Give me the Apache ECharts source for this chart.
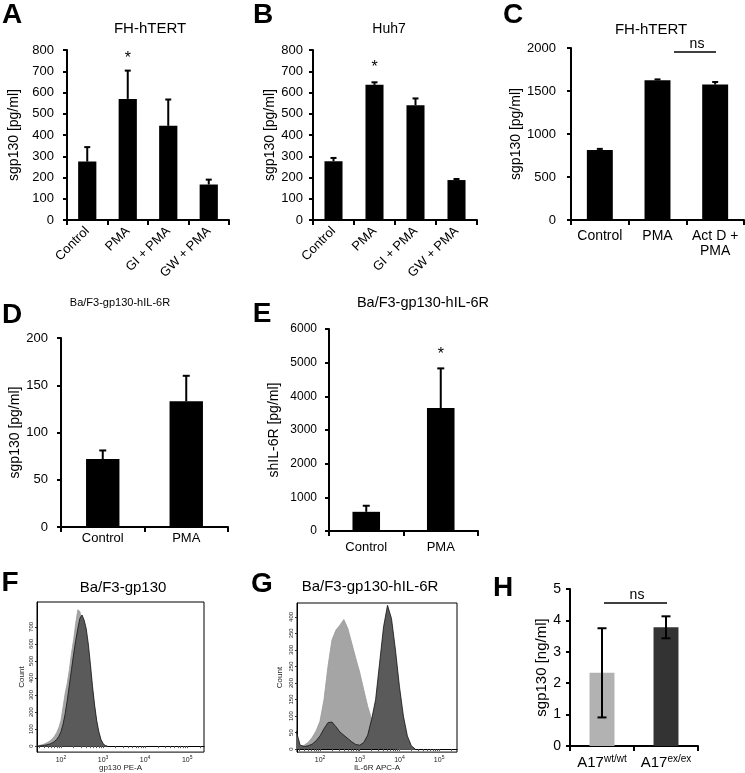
<!DOCTYPE html>
<html><head><meta charset="utf-8">
<script src="https://cdn.jsdelivr.net/npm/echarts@6/dist/echarts.min.js"></script>
<style>html,body{margin:0;padding:0;background:#fff}#c{width:745px;height:773px}</style>
</head><body><div id="c"></div>
<script>
// ---------- data ----------
const catA = ['Control', 'PMA', 'GI + PMA', 'GW + PMA'];
const meanA = [275, 570, 443, 167];
const errA = [68, 133, 124, 23];
const sigA = ['', '*', '', ''];

const catB = ['Control', 'PMA', 'GI + PMA', 'GW + PMA'];
const meanB = [277, 636, 540, 188];
const errB = [15, 12, 32, 5];
const sigB = ['', '*', '', ''];

const catC = ['Control', 'PMA', 'Act D +\nPMA'];
const meanC = [815, 1625, 1575];
const errC = [12, 10, 30];
const sigC = ['', '', ''];

const catD = ['Control', 'PMA'];
const meanD = [72, 133];
const errD = [9, 27];
const sigD = ['', ''];

const catE = ['Control', 'PMA'];
const meanE = [570, 3650];
const errE = [180, 1180];
const sigE = ['', '*'];

const catH = ['wt/wt', 'ex/ex'];
const meanH = [2.33, 3.78];
const errH = [1.42, 0.35];

// flow histograms: x = log10 fluorescence, y = count
const histFx = [1.45,1.5,1.55,1.6,1.65,1.7,1.75,1.8,1.85,1.9,1.95,2.0,2.05,2.1,2.15,2.2,2.25,2.3,2.35,2.4,2.45,2.5,2.55,2.6,2.65,2.7,2.75,2.8,2.85,2.9,2.95,3.0,3.05,3.1];
const histFLight = [2,5,8,12,18,25,33,45,60,80,110,150,230,310,370,450,545,625,720,800,790,730,680,620,540,440,330,220,130,70,30,10,2,0];
const histFDark = [0,2,3,5,7,10,14,20,28,40,58,85,130,190,270,360,450,540,620,690,750,770,740,690,600,480,350,240,150,85,40,15,4,0];

const histGx = [1.4,1.5,1.6,1.7,1.8,1.9,2.0,2.1,2.2,2.3,2.4,2.5,2.6,2.7,2.8,2.9,3.0,3.1,3.2,3.3,3.4,3.5,3.6,3.7,3.8,3.9,4.0,4.1,4.2,4.3,4.4];
const histGLight = [5,8,12,20,35,55,85,150,250,330,360,375,392,365,320,275,232,180,130,90,60,38,22,12,6,2,0,0,0,0,0];
const histGDark = [55,12,8,10,15,25,40,62,80,82,68,52,42,32,22,14,12,20,42,90,150,260,370,435,395,300,190,100,40,10,0];

const yTicksF = [0,100,200,300,400,500,600,700];
const yTicksG = [0,50,100,150,200,250,300,350,400];
const xDecades = [2,3,4,5];

// ---------- helpers ----------
const FONT = 'Liberation Sans, Arial, sans-serif';
const chart = echarts.init(document.getElementById('c'));

function barYAxis(gi, max, interval, name, nameGap, fs, nfs, margin) {
  return {
    gridIndex: gi, type: 'value', min: 0, max: max, interval: interval,
    name: name, nameLocation: 'middle', nameGap: nameGap,
    nameTextStyle: {fontFamily: FONT, fontSize: nfs, color: '#000'},
    axisLine: {show: true, lineStyle: {color: '#000', width: 2}},
    axisTick: {show: true, length: 4, lineStyle: {color: '#000', width: 2}},
    axisLabel: {fontFamily: FONT, fontSize: fs, color: '#000', margin: margin, formatter: v => String(v)},
    splitLine: {show: false}
  };
}
function barXAxis(gi, cats, extra) {
  return Object.assign({
    gridIndex: gi, type: 'category', data: cats,
    axisLine: {show: true, lineStyle: {color: '#000', width: 2}},
    axisTick: {show: true, length: 5, lineStyle: {color: '#000', width: 2}},
    axisLabel: {fontFamily: FONT, fontSize: 13, color: '#000', margin: 8, interval: 0},
    splitLine: {show: false}
  }, extra || {});
}
function barSeries(gi, means, colors, width) {
  return {
    type: 'bar', xAxisIndex: gi, yAxisIndex: gi, barWidth: width,
    data: means.map((v, i) => ({value: v, itemStyle: {color: colors ? colors[i] : '#000'}})),
    silent: true
  };
}
function errSeries(gi, means, errs, sigs, capHalf, twoSided, sigGap) {
  return {
    type: 'custom', xAxisIndex: gi, yAxisIndex: gi, z: 5, silent: true,
    data: means.map((m, i) => [i, twoSided ? m - errs[i] : m, m + errs[i]]),
    encode: {x: 0, y: [1, 2]},
    renderItem: function (params, api) {
      const i = api.value(0);
      const lo = api.coord([i, api.value(1)]);
      const hi = api.coord([i, api.value(2)]);
      const st = {stroke: '#000', lineWidth: 2};
      const ch = [
        {type: 'line', shape: {x1: hi[0], y1: lo[1], x2: hi[0], y2: hi[1]}, style: st},
        {type: 'line', shape: {x1: hi[0] - capHalf, y1: hi[1], x2: hi[0] + capHalf, y2: hi[1]}, style: st}
      ];
      if (twoSided) ch.push({type: 'line', shape: {x1: lo[0] - capHalf, y1: lo[1], x2: lo[0] + capHalf, y2: lo[1]}, style: st});
      const s = sigs ? sigs[params.dataIndex] : '';
      if (s) ch.push({type: 'text', style: {text: s, x: hi[0], y: hi[1] - sigGap, fontFamily: FONT, fontSize: 16, fill: '#000', align: 'center', verticalAlign: 'middle'}});
      return {type: 'group', children: ch};
    }
  };
}
function histXAxis(gi, min, max, name) {
  const minors = [];
  for (let d = 1; d <= 5; d++) for (let k = 1; k <= 9; k++) { const v = d + Math.log10(k); if (v >= min && v <= max) minors.push(v); }
  return {
    gridIndex: gi, type: 'value', min: min, max: max,
    name: name, nameLocation: 'middle', nameGap: 11,
    nameTextStyle: {fontFamily: FONT, fontSize: 8, color: '#222'},
    axisLine: {show: true, lineStyle: {color: '#000', width: 1}},
    axisTick: {show: true, length: 2, customValues: minors, lineStyle: {color: '#555', width: 1}},
    axisLabel: {customValues: xDecades, margin: 3, fontFamily: FONT, fontSize: 7, color: '#222',
      formatter: v => '{b|10}{s|' + Math.round(v) + '}',
      rich: {b: {fontSize: 7, fontFamily: FONT, color: '#222', lineHeight: 9}, s: {fontSize: 5, fontFamily: FONT, color: '#222', verticalAlign: 'top', lineHeight: 9}}},
    splitLine: {show: false}
  };
}
function histYAxis(gi, min, max, ticks, nameGap) {
  return {
    gridIndex: gi, type: 'value', min: min, max: max,
    name: 'Count', nameLocation: 'middle', nameGap: nameGap,
    nameTextStyle: {fontFamily: FONT, fontSize: 8, color: '#222'},
    axisLine: {show: true, lineStyle: {color: '#000', width: 1}},
    axisTick: {show: true, length: 2, customValues: ticks, lineStyle: {color: '#333'}},
    axisLabel: {customValues: ticks, rotate: 90, margin: 3, fontFamily: FONT, fontSize: 6, color: '#222'},
    splitLine: {show: false}
  };
}
function histSeries(gi, xs, ys, fill, stroke, lw, z) {
  return {
    type: 'line', xAxisIndex: gi, yAxisIndex: gi, showSymbol: false, silent: true, z: z,
    data: xs.map((x, i) => [x, ys[i]]),
    lineStyle: {color: stroke, width: lw},
    areaStyle: {color: fill, opacity: 1, origin: 'auto'}
  };
}

// ---------- option ----------
const grids = [
  {left: 67, top: 50, width: 162, height: 170},    // A
  {left: 313, top: 50, width: 164, height: 170},   // B
  {left: 571, top: 48, width: 173, height: 172},   // C
  {left: 61, top: 338, width: 167, height: 189},   // D
  {left: 329, top: 329, width: 149, height: 202},  // E
  {left: 37, top: 602, width: 167, height: 151, show: true, borderColor: '#000', borderWidth: 1},  // F
  {left: 297, top: 603, width: 160, height: 151, show: true, borderColor: '#000', borderWidth: 1}, // G
  {left: 570, top: 589, width: 128, height: 157}   // H
];

const rot = {axisLabel: {fontFamily: FONT, fontSize: 13, color: '#000', margin: 9, interval: 0, rotate: 45}};

const option = {
  backgroundColor: '#fff',
  animation: false,
  grid: grids,
  xAxis: [
    barXAxis(0, catA, rot),
    barXAxis(1, catB, rot),
    barXAxis(2, catC, {axisLabel: {fontFamily: FONT, fontSize: 14, color: '#000', margin: 9, interval: 0, lineHeight: 15}}),
    barXAxis(3, catD, {axisLabel: {fontFamily: FONT, fontSize: 13, color: '#000', margin: 5, interval: 0}}),
    barXAxis(4, catE, {axisLabel: {fontFamily: FONT, fontSize: 13, color: '#000', margin: 10, interval: 0}}),
    histXAxis(5, 1.43, 5.40, 'gp130 PE-A'),
    histXAxis(6, 1.42, 5.45, 'IL-6R APC-A'),
    barXAxis(7, catH, {axisLabel: {fontFamily: FONT, color: '#000', margin: 8, interval: 0,
      formatter: v => '{b|A17}{s|' + v + '}',
      rich: {b: {fontSize: 15, fontFamily: FONT, color: '#000', lineHeight: 17}, s: {fontSize: 10, fontFamily: FONT, color: '#000', verticalAlign: 'top', lineHeight: 17}}}})
  ],
  yAxis: [
    barYAxis(0, 800, 100, 'sgp130 [pg/ml]', 46, 13, 14, 13),
    barYAxis(1, 800, 100, 'sgp130 [pg/ml]', 33, 13, 14, 10),
    barYAxis(2, 2000, 500, 'sgp130 [pg/ml]', 45, 13, 14, 15),
    barYAxis(3, 200, 50, 'sgp130 [pg/ml]', 37, 13, 14, 13),
    barYAxis(4, 6000, 1000, 'shIL-6R [pg/ml]', 48, 12, 14, 12),
    histYAxis(5, -35, 846, yTicksF, 11),
    histYAxis(6, -9, 442, yTicksG, 13),
    barYAxis(7, 5, 1, 'sgp130 [ng/ml]', 17, 14, 15, 9)
  ],
  series: [
    barSeries(0, meanA, null, '45%'), errSeries(0, meanA, errA, sigA, 3, false, 12),
    barSeries(1, meanB, null, '44%'), errSeries(1, meanB, errB, sigB, 3, false, 15),
    barSeries(2, meanC, null, '45%'), errSeries(2, meanC, errC, sigC, 3, false, 12),
    barSeries(3, meanD, null, '40%'), errSeries(3, meanD, errD, sigD, 3.5, false, 12),
    barSeries(4, meanE, null, '37%'), errSeries(4, meanE, errE, sigE, 3.5, false, 14),
    histSeries(5, histFx, histFLight, '#a5a5a5', '#999', 0.8, 2),
    histSeries(5, histFx, histFDark, '#5a5a5a', '#111', 0.8, 3),
    histSeries(6, histGx, histGLight, '#a5a5a5', '#999', 0.8, 2),
    histSeries(6, histGx, histGDark, '#5a5a5a', '#111', 0.8, 3),
    barSeries(7, meanH, ['#b2b2b2', '#333333'], '39%'), errSeries(7, meanH, errH, null, 4.5, true, 0)
  ],
  graphic: [
    // panel letters
    ...[['A', 12, 15], ['B', 263, 15], ['C', 513, 15], ['D', 12, 315], ['E', 262, 314], ['F', 10, 583], ['G', 262, 584], ['H', 503, 588]].map(p => ({
      type: 'text', x: p[1], y: p[2],
      style: {text: p[0], fontFamily: FONT, fontWeight: 'bold', fontSize: 28, fill: '#000', align: 'center', verticalAlign: 'middle'}
    })),
    // titles
    ...[['FH-hTERT', 150, 29, 15], ['Huh7', 389, 29, 14], ['FH-hTERT', 651, 30, 15], ['Ba/F3-gp130-hIL-6R', 120, 303, 11],
        ['Ba/F3-gp130-hIL-6R', 423, 303, 14.5], ['Ba/F3-gp130', 123, 588, 15], ['Ba/F3-gp130-hIL-6R', 370, 587, 15]].map(t => ({
      type: 'text', x: t[1], y: t[2],
      style: {text: t[0], fontFamily: FONT, fontSize: t[3], fill: '#000', align: 'center', verticalAlign: 'middle'}
    })),
    // ns brackets
    {type: 'line', shape: {x1: 674, y1: 52, x2: 716, y2: 52}, style: {stroke: '#000', lineWidth: 1.5}},
    {type: 'text', x: 697, y: 44, style: {text: 'ns', fontFamily: FONT, fontSize: 14, fill: '#000', align: 'center', verticalAlign: 'middle'}},
    {type: 'line', shape: {x1: 604, y1: 603, x2: 667, y2: 603}, style: {stroke: '#000', lineWidth: 1.5}},
    {type: 'text', x: 637, y: 595, style: {text: 'ns', fontFamily: FONT, fontSize: 14, fill: '#000', align: 'center', verticalAlign: 'middle'}}
  ]
};
chart.setOption(option);
</script>
</body></html>
